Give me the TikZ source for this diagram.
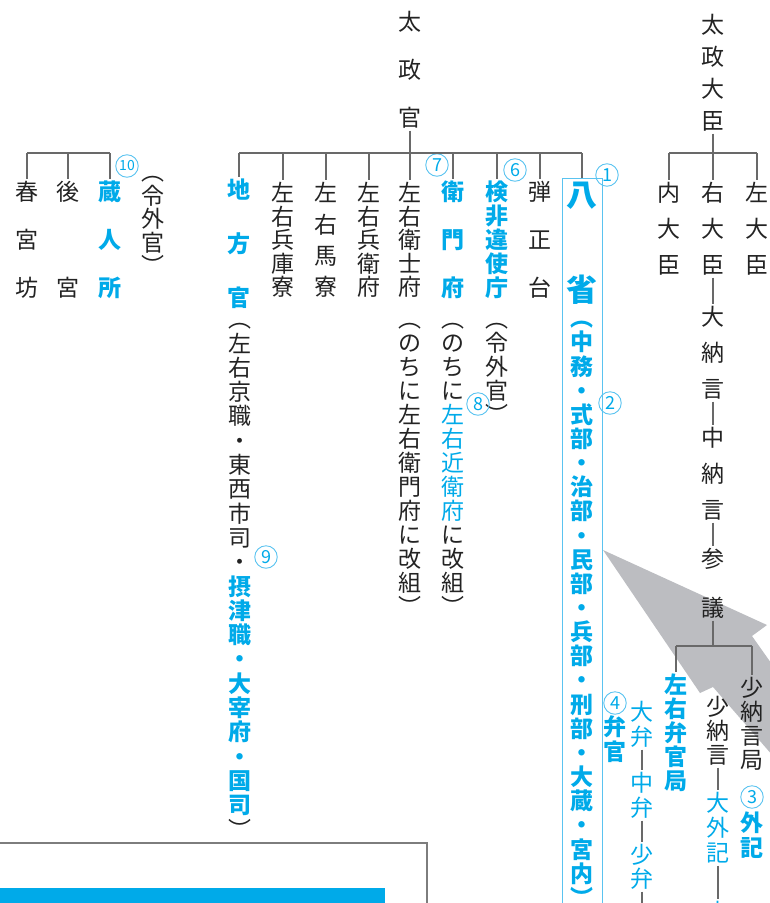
\documentclass[tikz,border=0pt]{standalone}
\usepackage{fontspec}
\newfontfamily\jpfont{Noto Sans CJK JP}

\definecolor{ink}{RGB}{35,35,35}
\definecolor{keyblue}{RGB}{0,170,233}
\definecolor{boxblue}{RGB}{90,195,240}
\definecolor{linegray}{RGB}{105,105,105}
\definecolor{arrowgray}{RGB}{188,189,193}
\definecolor{framegray}{RGB}{125,125,125}

\tikzset{
  moji/.style={font=\jpfont\fontsize{23}{23}\selectfont, text=ink, inner sep=1pt,
    text height=20.2pt, text depth=2.8pt},
  kmoji/.style={moji, font=\jpfont\bfseries\fontsize{23}{23}\selectfont, text=keyblue},
  bmoji/.style={moji, text=keyblue},
  bigmoji/.style={moji, font=\jpfont\bfseries\fontsize{31}{31}\selectfont, text=keyblue,
    text height=27.3pt, text depth=3.7pt},
  link/.style={draw=linegray, line width=1.1pt},
  num/.style={circle, draw=boxblue, line width=0.9pt, text=keyblue, minimum size=22.5pt,
    inner sep=0pt, font=\jpfont\fontsize{18}{18}\selectfont},
}

% vertical text: [style]{name}{x}{first y}{pitch}{characters}
\newcommand{\tate}[6][]{%
  \foreach \ch [count=\i] in {#6}{%
    \node[moji,#1] (#2-\i) at (#3,{#4+(\i-1)*#5}) {\ch};
  }%
}

\begin{document}
\begin{tikzpicture}[x=1pt, y=-1pt]
    \useasboundingbox (0,0) rectangle (770,903);

    \fill[arrowgray] (603,550) -- (767,625) -- (752,636) -- (812,721)
    -- (800,787) -- (713,687) -- (700,693) -- cycle;

    % left group
    \tate{togu}{27}{192}{48}{春,宮,坊}
    \tate{kokyu}{68}{192}{96}{後,宮}
    \tate[kmoji]{kuro}{110}{192}{48}{蔵,人,所}
    \tate{kuronote}{153}{172}{23.5}{︵,令,外,官,︶}
    \node[num, font=\jpfont\fontsize{14}{14}\selectfont] (n10) at (127,166) {10};
    \coordinate (lbar) at (27,153);
    \draw[link] (togu-1.north |- lbar) -- (kuro-1.north |- lbar);
    \foreach \n in {togu-1,kokyu-1,kuro-1}
    \draw[link] (\n.north |- lbar) -- (\n.north);

    % dajokan
    \tate{dajo}{410}{22}{48}{太,政,官}
    \tate[kmoji]{chiho}{239}{190}{54}{地,方,官}
    \tate{chihonote}{240}{319}{24.3}{︵,左,右,京,職,・,東,西,市,司,・}
    \tate[kmoji]{chihokey}{240}{319+11*24.3}{24.3}{摂,津,職,・,大,宰,府,・,国,司}
    \tate{chihoend}{240}{319+21*24.3}{24.3}{︶}
    \tate{hyogo}{283}{193}{23.5}{左,右,兵,庫,寮}
    \tate{uma}{326}{193}{31.3}{左,右,馬,寮}
    \tate{hyoe}{369}{193}{23.5}{左,右,兵,衛,府}
    \tate{eji}{410}{193}{23.5}{左,右,衛,士,府}
    \tate{ejinote}{410}{319}{24}{︵,の,ち,に,左,右,衛,門,府,に,改,組,︶}
    \tate[kmoji]{eimon}{453}{192}{48}{衛,門,府}
    \tate{eimonnote}{453}{319}{24}{︵,の,ち,に}
    \tate[bmoji]{konoe}{453}{319+4*24}{24}{左,右,近,衛,府}
    \tate{eimonend}{453}{319+9*24}{24}{に,改,組,︶}
    \tate[kmoji]{kebii}{497}{192}{24}{検,非,違,使,庁}
    \tate{kebiinote}{497}{319}{24}{︵,令,外,官,︶}
    \tate{danjo}{540}{192}{48}{弾,正,台}
    \node[bigmoji] (hachi) at (582,195) {八};
    \node[bigmoji] (sho) at (582,290) {省};
    \tate[kmoji]{shonote}{582}{318}{24.15}{︵,中,務,・,式,部,・,治,部,・,民,部,・,兵,部,・,刑,部,・,大,蔵,・,宮,内,︶}
    \draw[boxblue, line width=1pt] (562,178) rectangle (602,930);
    \coordinate (hbox) at (582,178);

    \node[num] (n1) at (607,175) {1};
    \node[num] (n2) at (610,403) {2};
    \node[num] (n6) at (515,170) {6};
    \node[num] (n7) at (437,165) {7};
    \node[num] (n8) at (478,404) {8};
    \node[num] (n9) at (266,557) {9};

    \coordinate (bar) at (410,153);
    \draw[link] (chiho-1.north |- bar) -- (hbox |- bar);
    \draw[link] (dajo-3) -- (eji-1);
    \foreach \n in {chiho-1,hyogo-1,uma-1,hyoe-1,eimon-1,kebii-1,danjo-1}
    \draw[link] (\n.north |- bar) -- (\n.north);
    \draw[link] (hbox |- bar) -- (hbox);

    % daijo daijin
    \tate{daijin}{713}{25}{32}{太,政,大,臣}
    \tate{naidai}{669}{193}{36}{内,大,臣}
    \tate{udai}{713}{193}{36}{右,大,臣}
    \tate{sadai}{757}{193}{36}{左,大,臣}
    \tate{dainagon}{713}{317}{36}{大,納,言}
    \tate{chunagon}{713}{438}{36}{中,納,言}
    \tate{sangi}{713}{559}{49}{参,議}
    \coordinate (rbar) at (713,153);
    \draw[link] (naidai-1.north |- rbar) -- (sadai-1.north |- rbar);
    \draw[link] (daijin-4) -- (udai-1);
    \foreach \n in {naidai-1,sadai-1}
    \draw[link] (\n.north |- rbar) -- (\n.north);
    \draw[link] (udai-3) -- (dainagon-1);
    \draw[link] (dainagon-3) -- (chunagon-1);
    \draw[link] (chunagon-3) -- (sangi-1);

    % benkan / shonagon
    \tate[kmoji]{benkankyoku}{676}{685}{24}{左,右,弁,官,局}
    \tate{shonagonkyoku}{752}{688}{24}{少,納,言,局}
    \coordinate (sbar) at (713,646);
    \draw[link] (sangi-2) -- (sbar);
    \draw[link] (benkankyoku-1.north |- sbar) -- (shonagonkyoku-1.north |- sbar);
    \foreach \n in {benkankyoku-1,shonagonkyoku-1}
    \draw[link] (\n.north |- sbar) -- (\n.north);

    \tate{shonagon}{718}{707}{24}{少,納,言}
    \tate[bmoji]{daigeki}{718}{803}{25}{大,外,記}
    \node[bmoji] (shogeki) at (718,912) {少};
    \draw[link] (shonagon-3) -- (daigeki-1);
    \draw[link] (daigeki-3) -- (shogeki);
    \node[num] (n3) at (752,797) {3};
    \tate[kmoji]{geki}{752}{823}{25}{外,記}

    \tate[bmoji]{daiben}{642}{712}{25}{大,弁}
    \tate[bmoji]{chuben}{642}{783}{25}{中,弁}
    \tate[bmoji]{shoben}{642}{855}{24}{少,弁}
    \coordinate (benend) at (642,910);
    \draw[link] (daiben-2) -- (chuben-1);
    \draw[link] (chuben-2) -- (shoben-1);
    \draw[link] (shoben-2) -- (benend);
    \node[num] (n4) at (615,703) {4};
    \tate[kmoji]{benkan}{615}{727}{25}{弁,官}

    % frame at the bottom
    \draw[framegray, line width=1.2pt] (-5,843) -- (427,843) -- (427,910);
    \fill[keyblue] (-5,888) rectangle (385,910);

\end{tikzpicture}
\end{document}
